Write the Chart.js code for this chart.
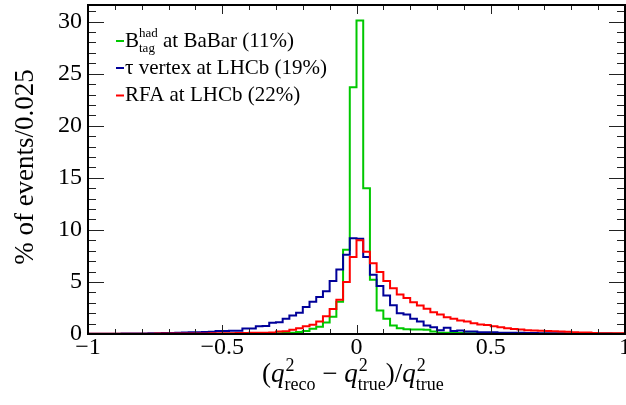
<!DOCTYPE html>
<html>
<head>
<meta charset="utf-8">
<script src="https://cdn.jsdelivr.net/npm/chart.js@4.4.0/dist/chart.umd.min.js"></script>
<style>
  html, body { margin:0; padding:0; background:#fff; }
  #wrap { width:626px; height:405px; }
</style>
</head>
<body>
<div id="wrap"><canvas id="c" width="626" height="405"></canvas></div>
<script>
// histogram binning: 80 bins of 0.025 from -1 to 1
const BIN_LO = -1;
const BIN_W = 0.025;

// % of events per bin
const babar = [
  0.01,0.01,0.01,0.01,0.01,0.01,0.01,0.01,0.01,0.01,
  0.01,0.01,0.01,0.01,0.01,0.01,0.01,0.01,0.01,0.01,
  0.02,0.02,0.03,0.03,0.04,0.05,0.06,0.07,0.08,0.1,
  0.12,0.2,0.3,0.5,0.7,1.1,1.65,3.1,8.1,23.7,
  30.1,14.0,5.2,2.26,1.46,0.82,0.55,0.45,0.44,0.43,
  0.42,0.25,0.13,0.12,0.11,0.1,0.07,0.07,0.06,0.06,
  0.05,0.04,0.04,0.04,0.04,0.04,0.03,0.03,0.03,0.03,
  0.03,0.03,0.03,0.02,0.02,0.02,0.02,0.02,0.02,0.02
];
const tauVertex = [
  0.02,0.02,0.03,0.03,0.03,0.04,0.04,0.05,0.06,0.07,
  0.08,0.09,0.1,0.12,0.15,0.16,0.17,0.2,0.22,0.3,
  0.3,0.31,0.32,0.53,0.54,0.75,0.76,1.07,1.14,1.46,
  1.78,2.05,2.6,3.1,3.55,4.1,5.1,6.2,7.6,9.2,
  9.15,7.4,5.7,4.6,3.7,2.75,2.0,1.87,1.46,1.2,
  0.82,0.65,0.35,0.6,0.28,0.34,0.24,0.24,0.18,0.18,
  0.17,0.13,0.12,0.12,0.11,0.1,0.09,0.08,0.08,0.07,
  0.07,0.06,0.06,0.05,0.05,0.04,0.04,0.04,0.03,0.03
];
const rfa = [
  0.03,0.03,0.03,0.03,0.03,0.03,0.03,0.03,0.03,0.03,
  0.04,0.04,0.05,0.05,0.05,0.06,0.06,0.06,0.07,0.07,
  0.08,0.08,0.09,0.1,0.11,0.12,0.13,0.15,0.24,0.26,
  0.4,0.56,0.75,0.9,1.2,1.7,2.4,3.3,5.0,7.4,
  9.0,7.9,6.8,5.95,5.1,4.4,3.8,3.45,3.06,2.74,
  2.42,2.1,1.87,1.62,1.46,1.3,1.2,1.04,0.91,0.86,
  0.75,0.65,0.56,0.48,0.44,0.36,0.34,0.32,0.3,0.26,
  0.24,0.22,0.17,0.15,0.14,0.09,0.08,0.08,0.07,0.07
];

const xTicks = [-1, -0.5, 0, 0.5, 1];
const yTicks = [0, 5, 10, 15, 20, 25, 30];
const Y_MAX = 31.6;

const SERIF = "'Liberation Serif', 'DejaVu Serif', serif";
const GREEN = '#00c800', BLUE = '#000099', RED = '#ff0000';

// bin contents -> step points (left edges + closing right edge)
function toSteps(vals) {
  const pts = vals.map((v, i) => ({ x: BIN_LO + i * BIN_W, y: v }));
  pts.push({ x: BIN_LO + vals.length * BIN_W, y: vals[vals.length - 1] });
  return pts;
}

function fmtTick(v) {
  if (v === 0) return '0';
  return (v < 0 ? '\u2212' : '') + Math.abs(v);
}

// draw text runs with sizes / offsets, returns end x
function runs(ctx, x, y, parts) {
  parts.forEach(p => {
    ctx.font = (p.italic ? 'italic ' : '') + p.size + 'px ' + SERIF;
    ctx.fillText(p.t, x, y + (p.dy || 0));
    x += ctx.measureText(p.t).width;
  });
  return x;
}

// q with superscript 2 and a subscript
function qSym(ctx, x, y, sub) {
  x = runs(ctx, x, y, [{ t: 'q', size: 27, italic: true }]);
  ctx.font = '18px ' + SERIF;
  ctx.fillText('2', x + 1, y - 11);
  const w1 = ctx.measureText('2').width + 1;
  ctx.fillText(sub, x, y + 8);
  const w2 = ctx.measureText(sub).width;
  return x + Math.max(w1, w2);
}

const rootFrame = {
  id: 'rootFrame',
  afterDraw(chart) {
    const { ctx, chartArea: a, scales } = chart;
    const xs = scales.x, ys = scales.y;
    ctx.save();
    // ticks, inward on all four sides
    ctx.strokeStyle = '#222';
    ctx.lineWidth = 1;
    ctx.beginPath();
    for (let k = 0; k <= 20; k++) {
      const v = -1 + k * 0.1;
      const px = Math.round(xs.getPixelForValue(v)) + 0.5;
      const len = (k % 5 === 0) ? 9 : 5;
      ctx.moveTo(px, a.bottom); ctx.lineTo(px, a.bottom - len);
      ctx.moveTo(px, a.top); ctx.lineTo(px, a.top + len);
    }
    for (let v = 0; v <= Y_MAX; v += 1) {
      const py = Math.round(ys.getPixelForValue(v)) + 0.5;
      const len = (v % 5 === 0) ? 16 : 8;
      ctx.moveTo(a.left, py); ctx.lineTo(a.left + len, py);
      ctx.moveTo(a.right, py); ctx.lineTo(a.right - len, py);
    }
    ctx.stroke();
    // frame
    ctx.strokeStyle = '#000';
    ctx.lineWidth = 2;
    ctx.strokeRect(a.left, a.top, a.right - a.left, a.bottom - a.top);

    // legend
    const legend = [
      { c: GREEN, y: 46.5, parts: [
        { t: 'B', size: 21 },
        { t: 'had', size: 13, dy: -10, stack: true },
        { t: 'tag', size: 13, dy: 5 },
        { t: ' at BaBar (11%)', size: 21 } ] },
      { c: BLUE, y: 73.5, parts: [{ t: '\u03c4 vertex at LHCb (19%)', size: 21 }] },
      { c: RED, y: 101, parts: [{ t: 'RFA at LHCb (22%)', size: 21 }] }
    ];
    ctx.fillStyle = '#000';
    ctx.textBaseline = 'alphabetic';
    ctx.textAlign = 'left';
    legend.forEach(e => {
      ctx.strokeStyle = e.c;
      ctx.lineWidth = 2;
      ctx.beginPath();
      ctx.moveTo(116, e.y - 5.5); ctx.lineTo(124, e.y - 5.5);
      ctx.stroke();
      let x = 125;
      for (let i = 0; i < e.parts.length; i++) {
        const p = e.parts[i];
        if (p.stack) {
          const q = e.parts[i + 1];
          ctx.font = p.size + 'px ' + SERIF;
          ctx.fillText(p.t, x, e.y + p.dy);
          const w1 = ctx.measureText(p.t).width;
          ctx.font = q.size + 'px ' + SERIF;
          ctx.fillText(q.t, x, e.y + q.dy);
          const w2 = ctx.measureText(q.t).width;
          x += Math.max(w1, w2);
          i++;
        } else {
          x = runs(ctx, x, e.y, [p]);
        }
      }
    });

    // x axis title
    let x = 262;
    const by = 382;
    x = runs(ctx, x, by, [{ t: '(', size: 27 }]);
    x = qSym(ctx, x, by, 'reco');
    x = runs(ctx, x, by, [{ t: ' \u2212 ', size: 27 }]);
    x = qSym(ctx, x, by, 'true');
    x = runs(ctx, x, by, [{ t: ')/', size: 27 }]);
    qSym(ctx, x, by, 'true');

    // y axis title
    ctx.translate(33, 167);
    ctx.rotate(-Math.PI / 2);
    ctx.textAlign = 'center';
    ctx.font = '27px ' + SERIF;
    ctx.fillText('% of events/0.025', 0, 0);
    ctx.restore();
  }
};

const ds = (data, color) => ({
  data: toSteps(data),
  borderColor: color,
  borderWidth: 2,
  pointRadius: 0,
  fill: false,
  stepped: 'before',
  tension: 0
});

new Chart(document.getElementById('c'), {
  type: 'line',
  data: {
    datasets: [ds(rfa, RED), ds(tauVertex, BLUE), ds(babar, GREEN)]
  },
  options: {
    responsive: false,
    animation: false,
    events: [],
    layout: { padding: { left: 0, right: 1, top: 5, bottom: 0 } },
    plugins: { legend: { display: false }, tooltip: { enabled: false } },
    scales: {
      x: {
        type: 'linear', min: -1, max: 1,
        grid: { display: false, drawTicks: false },
        border: { display: false },
        afterBuildTicks: s => { s.ticks = xTicks.map(v => ({ value: v })); },
        afterFit: s => { s.height = 71; s.paddingLeft = 0; s.paddingRight = 0; },
        ticks: {
          autoSkip: false, maxRotation: 0, padding: 2,
          color: '#000', font: { family: SERIF, size: 24, lineHeight: 1 },
          callback: v => fmtTick(v)
        }
      },
      y: {
        type: 'linear', min: 0, max: Y_MAX,
        grid: { display: false, drawTicks: false },
        border: { display: false },
        afterBuildTicks: s => { s.ticks = yTicks.map(v => ({ value: v })); },
        afterFit: s => { s.width = 88; s.paddingTop = 0; s.paddingBottom = 0; },
        ticks: {
          autoSkip: false, padding: 6,
          color: '#000', font: { family: SERIF, size: 24, lineHeight: 1 },
          callback: v => fmtTick(v)
        }
      }
    }
  },
  plugins: [rootFrame]
});
</script>
</body>
</html>
